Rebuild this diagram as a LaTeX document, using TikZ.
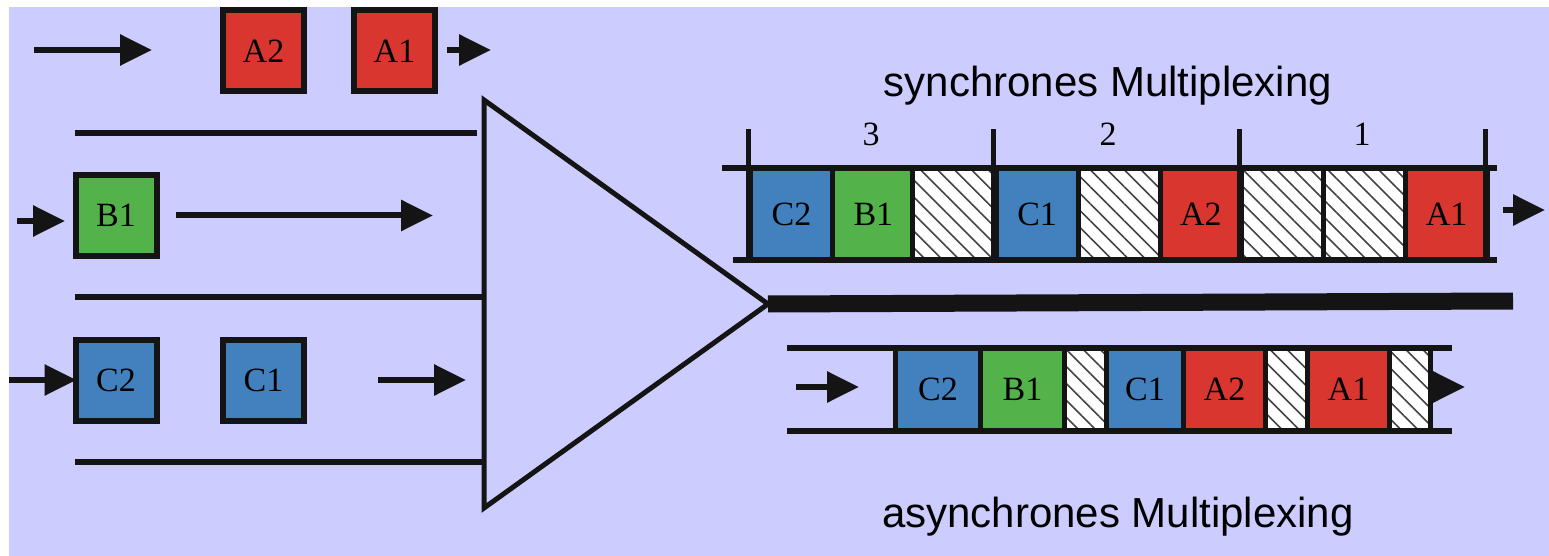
\documentclass[tikz,border=0pt]{standalone}
\usepackage{fontspec}
\setmainfont{Liberation Serif}
\newfontfamily\headfont{Liberation Sans}
\usetikzlibrary{arrows.meta,patterns.meta}

\definecolor{bgblue}{HTML}{CCCCFF}
\definecolor{ink}{HTML}{141414}
\definecolor{cred}{HTML}{DA3630}
\definecolor{cgreen}{HTML}{53B34A}
\definecolor{cblue}{HTML}{4281BD}

\tikzset{
  packet/.style={draw=ink, line width=3pt, minimum size=40.5pt, inner sep=0pt,
    font=\fontsize{17}{17}\selectfont},
  flow/.style={draw=ink, line width=3pt, -{Triangle[length=16pt,width=15pt]}},
  wire/.style={draw=ink, line width=3.4pt},
  slot/.style={draw=ink, line width=2.5pt, inner sep=0pt, anchor=west,
    font=\fontsize{17}{17}\selectfont},
  idle/.style={slot, preaction={fill=white}, pattern color=ink!80,
    pattern={Lines[angle=-45,distance=6pt,line width=0.8pt]}}
}

\begin{document}
\begin{tikzpicture}[x=0.5pt, y=-0.5pt]
  \useasboundingbox (0,0) rectangle (1549,556);
  \fill[bgblue] (9,7) rectangle (1549,556);

  % input packets
  \node[packet, fill=cred] (A2) at (263.5,51) {A2};
  \node[packet, fill=cred] (A1) at (394.5,51) {A1};
  \node[packet, fill=cgreen] (B1) at (116,215.5) {B1};
  \node[packet, fill=cblue] (C2) at (116,380) {C2};
  \node[packet, fill=cblue] (C1) at (263.5,380) {C1};

  % input channels
  \draw[wire] (75,133) -- (477,133);
  \draw[wire] (75,297) -- (484,297);
  \draw[wire] (75,462) -- (484,462);

  \coordinate (ain) at (34,50);
  \coordinate (ahead) at (152,50);
  \coordinate (aout) at (491,50);
  \coordinate (bin) at (17,221);
  \coordinate (bhead) at (65,221);
  \coordinate (bend) at (433,215.5);
  \coordinate (cin) at (9,380);
  \coordinate (cstart) at (378,380);
  \coordinate (cend) at (466,380);
  \draw[flow] (ain) -- (ahead);
  \draw[flow] (A1.east |- aout) ++(9,0) -- (aout);
  \draw[flow] (bin) -- (bhead);
  \draw[flow] ([xshift=8pt]B1.east) -- (bend);
  \draw[flow] (cin) -- ([xshift=2pt]C2.west);
  \draw[flow] (cstart) -- (cend);

  % multiplexer
  \coordinate (apex) at (768,304);
  \draw[ink, line width=2.5pt, line join=miter] (484,100) -- (apex) -- (484,508) -- cycle;
  \coordinate (lineend) at (1513,301);
  \draw[ink, line width=8.5pt] (apex) -- (lineend);

  % synchronous frame
  \node[font=\fontsize{21}{21}\headfont] (synctitle) at (1108,86) {synchrones Multiplexing};
  \foreach \i/\col/\txt in {0/cblue/C2, 1/cgreen/B1, 3/cblue/C1, 5/cred/A2, 8/cred/A1}
    \node[slot, fill=\col, minimum width=40.95pt, minimum height=46pt] (s\txt) at (748+81.9*\i,214) {\txt};
  \foreach \i in {2,4,6,7}
    \node[idle, minimum width=40.95pt, minimum height=46pt] (sidle\i) at (748+81.9*\i,214) {};
  \foreach \i in {0,3,6,9}
    \draw[ink, line width=2.5pt] (748+81.9*\i,129) -- (748+81.9*\i,262);
  \draw[wire] (722,168) -- (1497,168);
  \draw[wire] (733,260) -- (1497,260);
  \foreach \x/\n in {871/3, 1108/2, 1362/1}
    \node[font=\fontsize{17}{17}\selectfont] (frame\n) at (\x,134) {\n};
  \coordinate (syncout) at (1545,210);
  \draw[flow] (1503,210) -- (syncout);

  % asynchronous frame
  \foreach \x/\w/\col/\txt in {893/85/cblue/C2, 978/84/cgreen/B1, 1104/77/cblue/C1, 1181/82/cred/A2, 1305/82/cred/A1}
    \node[slot, fill=\col, minimum width=\w*0.5pt, minimum height=41.5pt] (a\txt) at (\x,389.5) {\txt};
  \foreach \x/\w in {1062/42, 1263/42, 1387/41}
    \node[idle, minimum width=\w*0.5pt, minimum height=41.5pt] (aidle\x) at (\x,389.5) {};
  \draw[wire] (787,348) -- (1452,348);
  \draw[wire] (787,431) -- (1452,431);
  \coordinate (asyncin) at (796,387);
  \coordinate (asyncout) at (1465,387);
  \draw[flow] (asyncin) -- (859,387);
  \draw[flow] (1440,387) -- (asyncout);
  \node[font=\fontsize{21}{21}\headfont] (asynctitle) at (1118,517) {asynchrones Multiplexing};
\end{tikzpicture}
\end{document}
